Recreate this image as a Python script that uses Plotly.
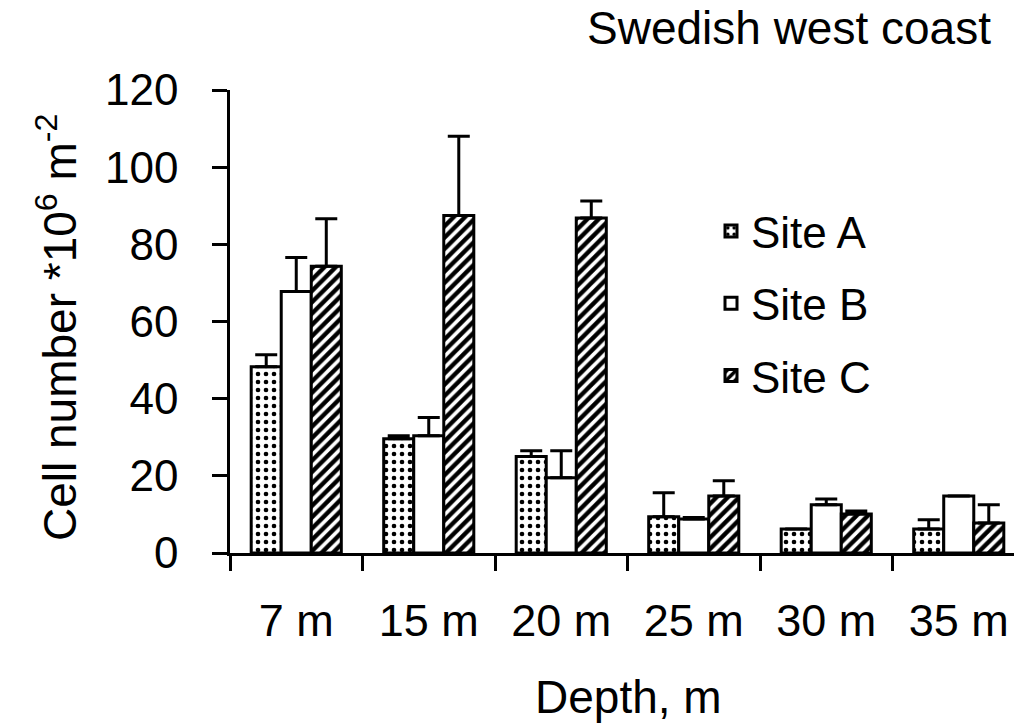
import plotly.graph_objects as go

depths = ["7 m", "15 m", "20 m", "25 m", "30 m", "35 m"]
site_a = [48.3, 29.6, 25.0, 9.4, 6.2, 6.2]
site_a_err = [3.1, 0.8, 1.5, 6.2, 0.0, 2.4]
site_b = [67.8, 30.4, 19.5, 8.8, 12.5, 14.8]
site_b_err = [8.8, 4.7, 7.0, 0.4, 1.5, 0.0]
site_c = [74.3, 87.5, 86.8, 14.8, 10.1, 7.8]
site_c_err = [12.3, 20.5, 4.4, 3.9, 0.8, 4.7]
series_names = ["Site A", "Site B", "Site C"]

FONT = "Liberation Sans, Arial, sans-serif"

def err(vals):
    return dict(type="data", symmetric=False, array=vals, arrayminus=[0] * len(vals),
                color="black", thickness=3, width=11)

patterns = [
    dict(shape=".", fgcolor="black", bgcolor="white", size=8, solidity=0.26, fillmode="replace"),
    dict(shape="", fgcolor="black", bgcolor="white"),
    dict(shape="/", fgcolor="black", bgcolor="white", size=8, solidity=0.55, fillmode="replace"),
]

fig = go.Figure()
for i, (name, vals, e) in enumerate(zip(series_names, [site_a, site_b, site_c],
                                        [site_a_err, site_b_err, site_c_err])):
    fig.add_trace(go.Bar(
        x=depths, y=vals, name=name, legendgroup=name,
        marker=dict(color="white", line=dict(color="black", width=3), pattern=patterns[i]),
        error_y=err(e),
    ))

L, R, T, B = 230, 0, 90, 172
W, H = 1014, 725
pw = W - L - R
ph = H - T - B
unit = 132.5

def px_x(x):
    return (x - L) / pw

def px_y(y):
    return (H - B - y) / ph

fig.update_layout(
    width=W, height=H,
    margin=dict(l=L, r=R, t=T, b=B, autoexpand=False),
    paper_bgcolor="white", plot_bgcolor="white",
    barmode="group", bargap=0.32, bargroupgap=0,
    font=dict(family=FONT, size=44, color="black"),
    showlegend=True,
    legend=dict(x=px_x(711), y=px_y(196), xanchor="left", yanchor="top",
                traceorder="grouped", tracegroupgap=12,
                font=dict(size=44, family=FONT), bgcolor="rgba(0,0,0,0)"),
    xaxis=dict(
        type="category",
        range=[-0.5, -0.5 + pw / unit],
        showline=True, linecolor="black", linewidth=2.5,
        ticks="outside", ticklen=15, tickwidth=2.5, tickcolor="black",
        tickson="boundaries", showgrid=False, zeroline=False,
        tickfont=dict(size=45, family=FONT), ticklabelstandoff=26,
    ),
    yaxis=dict(
        range=[0, 120], tickvals=[0, 20, 40, 60, 80, 100, 120],
        showline=True, linecolor="black", linewidth=2.5,
        ticks="outside", ticklen=15, tickwidth=2.5, tickcolor="black",
        showgrid=False, zeroline=False,
        tickfont=dict(size=44, family=FONT), ticklabelstandoff=25,
    ),
    annotations=[
        dict(text="Swedish west coast", x=px_x(993), y=px_y(28), xref="paper", yref="paper",
             xanchor="right", yanchor="middle", showarrow=False,
             font=dict(size=46, family=FONT)),
        dict(text="Depth, m", x=px_x(628), y=px_y(697), xref="paper", yref="paper",
             xanchor="center", yanchor="middle", showarrow=False,
             font=dict(size=46, family=FONT)),
        dict(text="Cell number *10<sup>6</sup> m<sup>-2</sup>", x=px_x(57), y=px_y(328),
             xref="paper", yref="paper", xanchor="center", yanchor="middle",
             textangle=-90, showarrow=False, font=dict(size=46, family=FONT)),
    ],
)

fig.write_html("out.html")
